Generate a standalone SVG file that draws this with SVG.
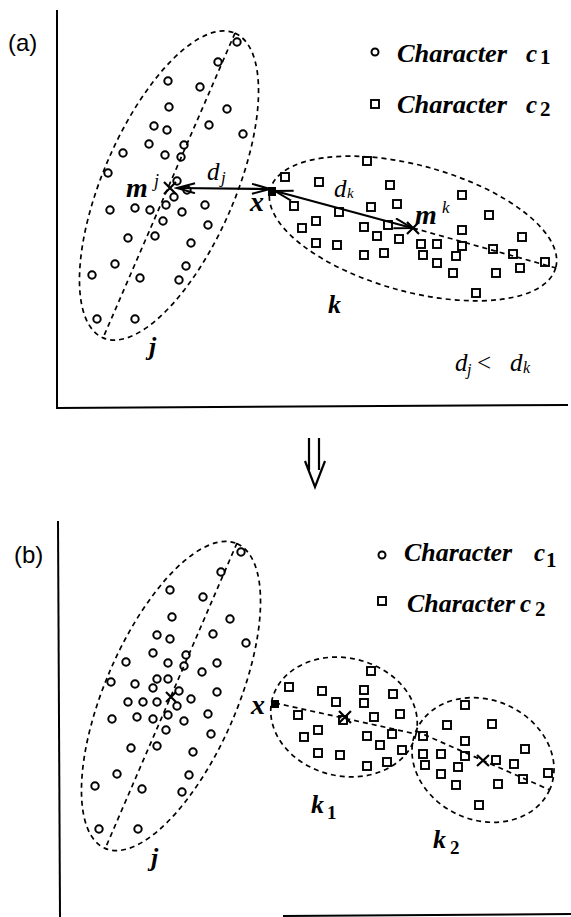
<svg xmlns="http://www.w3.org/2000/svg" width="571" height="917" viewBox="0 0 571 917">
<style>
.ax{fill:none;stroke:#000;stroke-width:2}
.el{fill:none;stroke:#000;stroke-width:1.7;stroke-dasharray:5 4}
.c{fill:none;stroke:#000;stroke-width:2}
.s{fill:none;stroke:#000;stroke-width:1.9}
.xm{fill:none;stroke:#000;stroke-width:2.2}
.pt{fill:#000}
.ar{fill:none;stroke:#000;stroke-width:2.2}
.tag{font-family:"Liberation Sans",Arial,sans-serif;font-size:24px}
.bi{font-family:"Liberation Serif","Times New Roman",serif;font-style:italic;font-weight:bold}
.ri{font-family:"Liberation Serif","Times New Roman",serif;font-style:italic}
.bn{font-family:"Liberation Serif","Times New Roman",serif;font-weight:bold}
.rn{font-family:"Liberation Serif","Times New Roman",serif}
</style>
<defs>
<marker id="ah" markerUnits="userSpaceOnUse" markerWidth="22" markerHeight="14" refX="19" refY="6" orient="auto-start-reverse">
<path d="M1,1 L19,6 L1,11" fill="none" stroke="#000" stroke-width="2"/>
</marker>
</defs>

<g id="panel-a">
<text class="tag" x="8" y="51">(a)</text>
<path id="axes-a" class="ax" d="M57,10 V408 L568,405"/>

<g id="cluster-j-a">
<ellipse class="el" cx="169" cy="185.5" rx="166" ry="66" transform="rotate(-66.6 169 185.5)"/>
<line class="el" x1="235" y1="33" x2="103" y2="338"/>
<g class="c">
<circle cx="237" cy="42" r="3.7"/><circle cx="218" cy="62" r="3.7"/><circle cx="168" cy="81" r="3.7"/><circle cx="200" cy="87" r="3.7"/>
<circle cx="169" cy="107" r="3.7"/><circle cx="227" cy="109" r="3.7"/><circle cx="154" cy="126" r="3.7"/><circle cx="167" cy="130" r="3.7"/>
<circle cx="209" cy="125" r="3.7"/><circle cx="243" cy="134" r="3.7"/><circle cx="149" cy="144" r="3.7"/><circle cx="184" cy="145" r="3.7"/>
<circle cx="123" cy="153" r="3.7"/><circle cx="165" cy="155" r="3.7"/><circle cx="181" cy="157" r="3.7"/><circle cx="108" cy="173" r="3.7"/>
<circle cx="177" cy="181" r="3.7"/><circle cx="187" cy="190" r="3.7"/><circle cx="174" cy="197" r="3.7"/><circle cx="110" cy="210" r="3.7"/>
<circle cx="135" cy="208" r="3.7"/><circle cx="150" cy="210" r="3.7"/><circle cx="166" cy="205" r="3.7"/><circle cx="182" cy="212" r="3.7"/>
<circle cx="205" cy="205" r="3.7"/><circle cx="163" cy="221" r="3.7"/><circle cx="208" cy="225" r="3.7"/><circle cx="128" cy="238" r="3.7"/>
<circle cx="155" cy="236" r="3.7"/><circle cx="191" cy="243" r="3.7"/><circle cx="115" cy="264" r="3.7"/><circle cx="186" cy="266" r="3.7"/>
<circle cx="92" cy="275" r="3.7"/><circle cx="140" cy="278" r="3.7"/><circle cx="179" cy="280" r="3.7"/><circle cx="97" cy="319" r="3.7"/>
<circle cx="135" cy="319" r="3.7"/>
</g>
<path class="xm" d="M164,182 L176,194 M176,182 L164,194"/>
<text class="bi" font-size="28" x="126" y="197">m</text>
<text class="ri" font-size="18" x="154" y="187">j</text>
<text class="bi" font-size="26" x="149" y="355">j</text>
</g>

<g id="cluster-k-a">
<ellipse class="el" cx="413" cy="228.5" rx="148" ry="63" transform="rotate(15.4 413 228.5)"/>
<line class="el" x1="413" y1="228" x2="556" y2="268"/>
<g class="s">
<rect x="281" y="173" width="8" height="8"/><rect x="315" y="178" width="8" height="8"/><rect x="363" y="157" width="8" height="8"/><rect x="386" y="181" width="8" height="8"/>
<rect x="458" y="191" width="8" height="8"/><rect x="290" y="202" width="8" height="8"/><rect x="335" y="208" width="8" height="8"/><rect x="367" y="203" width="8" height="8"/>
<rect x="393" y="200" width="8" height="8"/><rect x="485" y="211" width="8" height="8"/><rect x="312" y="217" width="8" height="8"/><rect x="298" y="224" width="8" height="8"/>
<rect x="360" y="223" width="8" height="8"/><rect x="384" y="221" width="8" height="8"/><rect x="373" y="232" width="8" height="8"/><rect x="458" y="226" width="8" height="8"/>
<rect x="395" y="235" width="8" height="8"/><rect x="312" y="239" width="8" height="8"/><rect x="333" y="241" width="8" height="8"/><rect x="417" y="240" width="8" height="8"/>
<rect x="433" y="240" width="8" height="8"/><rect x="458" y="242" width="8" height="8"/><rect x="518" y="233" width="8" height="8"/><rect x="360" y="251" width="8" height="8"/>
<rect x="380" y="249" width="8" height="8"/><rect x="419" y="251" width="8" height="8"/><rect x="452" y="252" width="8" height="8"/><rect x="489" y="245" width="8" height="8"/>
<rect x="509" y="250" width="8" height="8"/><rect x="433" y="259" width="8" height="8"/><rect x="516" y="264" width="8" height="8"/><rect x="541" y="258" width="8" height="8"/>
<rect x="449" y="269" width="8" height="8"/><rect x="492" y="269" width="8" height="8"/><rect x="472" y="289" width="8" height="8"/>
</g>
<path class="xm" d="M407,222 L419,234 M419,222 L407,234"/>
<text class="bi" font-size="28" x="415" y="224">m</text>
<text class="ri" font-size="17" x="442" y="213">k</text>
<text class="bi" font-size="26" x="328" y="313">k</text>
</g>

<g id="point-x-a">
<rect class="pt" x="268" y="187" width="8" height="9"/>
<text class="bi" font-size="28" x="250" y="211">x</text>
</g>

<g id="legend-a">
<circle class="c" cx="375" cy="52" r="3.5"/>
<text class="bi" font-size="25" x="397" y="62" textLength="110" lengthAdjust="spacingAndGlyphs">Character</text>
<text class="bi" font-size="25" x="526" y="62">c</text>
<text class="bn" font-size="21" x="540" y="64">1</text>
<rect class="s" x="371" y="100" width="8" height="8"/>
<text class="bi" font-size="25" x="397" y="113" textLength="110" lengthAdjust="spacingAndGlyphs">Character</text>
<text class="bi" font-size="25" x="526" y="113">c</text>
<text class="bn" font-size="21" x="540" y="116">2</text>
</g>

<g id="relation-a">
<text class="ri" font-size="25" x="455" y="371">d</text>
<text class="ri" font-size="16" x="467" y="375">j</text>
<text class="rn" font-size="25" x="477" y="371">&lt;</text>
<text class="ri" font-size="25" x="510" y="371">d</text>
<text class="ri" font-size="16" x="523" y="373">k</text>
</g>

<g id="connectors-a">
<line class="ar" x1="177" y1="188" x2="270" y2="189" marker-start="url(#ah)" marker-end="url(#ah)"/>
<line class="ar" x1="275" y1="191" x2="412" y2="228" marker-start="url(#ah)" marker-end="url(#ah)"/>
<text class="ri" font-size="25" x="207" y="180">d</text>
<text class="ri" font-size="17" x="221" y="183">j</text>
<text class="ri" font-size="25" x="334" y="197">d</text>
<text class="ri" font-size="15" x="347" y="198">k</text>
</g>
</g>

<g id="transition-arrow">
<path class="ar" d="M309,438 V470 M319,438 V470 M305,461 L315,487 L325,461"/>
</g>

<g id="panel-b">
<text class="tag" x="14" y="563">(b)</text>
<path id="axes-b" class="ax" d="M58,521 L60,917"/>
<path class="ax" d="M283,916 L571,914"/>

<g id="cluster-j-b">
<ellipse class="el" cx="171" cy="696" rx="166" ry="66" transform="rotate(-66.6 171 696)"/>
<line class="el" x1="237" y1="543" x2="105" y2="849"/>
<g class="c">
<circle cx="241" cy="552" r="3.7"/><circle cx="221" cy="572" r="3.7"/><circle cx="170" cy="590" r="3.7"/><circle cx="203" cy="597" r="3.7"/>
<circle cx="172" cy="617" r="3.7"/><circle cx="230" cy="619" r="3.7"/><circle cx="157" cy="635" r="3.7"/><circle cx="170" cy="639" r="3.7"/>
<circle cx="213" cy="634" r="3.7"/><circle cx="246" cy="643" r="3.7"/><circle cx="153" cy="653" r="3.7"/><circle cx="186" cy="655" r="3.7"/>
<circle cx="126" cy="662" r="3.7"/><circle cx="168" cy="663" r="3.7"/><circle cx="184" cy="666" r="3.7"/><circle cx="217" cy="663" r="3.7"/>
<circle cx="202" cy="672" r="3.7"/><circle cx="111" cy="682" r="3.7"/><circle cx="135" cy="684" r="3.7"/><circle cx="157" cy="679" r="3.7"/>
<circle cx="168" cy="679" r="3.7"/><circle cx="153" cy="688" r="3.7"/><circle cx="179" cy="691" r="3.7"/><circle cx="217" cy="692" r="3.7"/>
<circle cx="128" cy="702" r="3.7"/><circle cx="143" cy="702" r="3.7"/><circle cx="157" cy="702" r="3.7"/><circle cx="177" cy="706" r="3.7"/>
<circle cx="191" cy="699" r="3.7"/><circle cx="112" cy="719" r="3.7"/><circle cx="137" cy="717" r="3.7"/><circle cx="153" cy="719" r="3.7"/>
<circle cx="168" cy="715" r="3.7"/><circle cx="184" cy="721" r="3.7"/><circle cx="208" cy="714" r="3.7"/><circle cx="166" cy="730" r="3.7"/>
<circle cx="211" cy="734" r="3.7"/><circle cx="131" cy="748" r="3.7"/><circle cx="157" cy="746" r="3.7"/><circle cx="193" cy="752" r="3.7"/>
<circle cx="117" cy="774" r="3.7"/><circle cx="189" cy="775" r="3.7"/><circle cx="95" cy="786" r="3.7"/><circle cx="142" cy="789" r="3.7"/>
<circle cx="182" cy="792" r="3.7"/><circle cx="99" cy="829" r="3.7"/><circle cx="138" cy="829" r="3.7"/>
</g>
<path class="xm" d="M166,692 L176,702 M176,692 L166,702"/>
<text class="bi" font-size="26" x="151" y="866">j</text>
</g>

<g id="cluster-k1-b">
<ellipse class="el" cx="344" cy="717" rx="74" ry="59" transform="rotate(13.4 344 717)"/>
<line class="el" x1="275" y1="703" x2="416" y2="734"/>
<g class="s">
<rect x="367" y="667" width="8" height="8"/><rect x="285" y="683" width="8" height="8"/><rect x="318" y="687" width="8" height="8"/><rect x="360" y="686" width="8" height="8"/>
<rect x="389" y="690" width="8" height="8"/><rect x="332" y="698" width="8" height="8"/><rect x="360" y="699" width="8" height="8"/><rect x="294" y="711" width="8" height="8"/>
<rect x="370" y="713" width="8" height="8"/><rect x="396" y="710" width="8" height="8"/><rect x="339" y="716" width="8" height="8"/><rect x="314" y="726" width="8" height="8"/>
<rect x="300" y="733" width="8" height="8"/><rect x="363" y="732" width="8" height="8"/><rect x="388" y="730" width="8" height="8"/><rect x="376" y="741" width="8" height="8"/>
<rect x="314" y="749" width="8" height="8"/><rect x="336" y="751" width="8" height="8"/><rect x="398" y="746" width="8" height="8"/><rect x="363" y="762" width="8" height="8"/>
<rect x="383" y="758" width="8" height="8"/>
</g>
<path class="xm" d="M339,711 L351,723 M351,711 L339,723"/>
<text class="bi" font-size="26" x="311" y="813">k</text>
<text class="bn" font-size="19" x="327" y="819">1</text>
</g>

<g id="cluster-k2-b">
<ellipse class="el" cx="483" cy="760" rx="73" ry="60" transform="rotate(24 483 760)"/>
<line class="el" x1="416" y1="731" x2="550" y2="790"/>
<g class="s">
<rect x="461" y="701" width="8" height="8"/><rect x="443" y="721" width="8" height="8"/><rect x="488" y="720" width="8" height="8"/><rect x="419" y="732" width="8" height="8"/>
<rect x="461" y="737" width="8" height="8"/><rect x="521" y="745" width="8" height="8"/><rect x="419" y="750" width="8" height="8"/><rect x="437" y="750" width="8" height="8"/>
<rect x="461" y="752" width="8" height="8"/><rect x="492" y="756" width="8" height="8"/><rect x="510" y="760" width="8" height="8"/><rect x="421" y="761" width="8" height="8"/>
<rect x="454" y="763" width="8" height="8"/><rect x="437" y="770" width="8" height="8"/><rect x="519" y="775" width="8" height="8"/><rect x="544" y="769" width="8" height="8"/>
<rect x="452" y="781" width="8" height="8"/><rect x="494" y="780" width="8" height="8"/><rect x="475" y="801" width="8" height="8"/>
</g>
<path class="xm" d="M477,755 L489,766 M489,755 L477,766"/>
<text class="bi" font-size="26" x="433" y="848">k</text>
<text class="bn" font-size="19" x="450" y="854">2</text>
</g>

<g id="point-x-b">
<rect class="pt" x="271" y="700" width="8" height="8"/>
<text class="bi" font-size="28" x="251" y="714">x</text>
</g>

<g id="legend-b">
<circle class="c" cx="382" cy="555" r="3.5"/>
<text class="bi" font-size="25" x="404" y="561" textLength="108" lengthAdjust="spacingAndGlyphs">Character</text>
<text class="bi" font-size="25" x="534" y="561">c</text>
<text class="bn" font-size="21" x="546" y="567">1</text>
<rect class="s" x="378" y="597" width="8" height="8"/>
<text class="bi" font-size="25" x="407" y="612" textLength="108" lengthAdjust="spacingAndGlyphs">Character</text>
<text class="bi" font-size="25" x="520" y="612">c</text>
<text class="bn" font-size="21" x="535" y="616">2</text>
</g>
</g>
</svg>
